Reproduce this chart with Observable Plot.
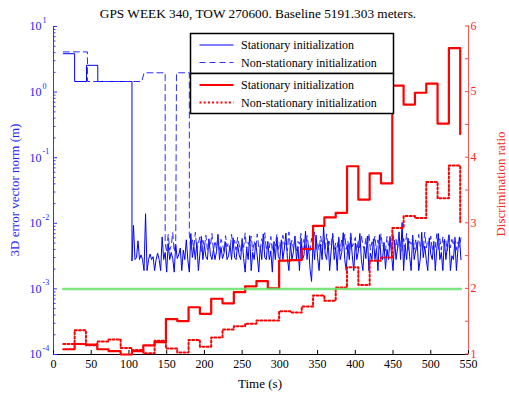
<!DOCTYPE html>
<html><head><meta charset="utf-8">
<script src="https://cdn.jsdelivr.net/npm/d3@7"></script>
<script src="https://cdn.jsdelivr.net/npm/@observablehq/plot@0.6"></script>
<style>body{margin:0;background:#fff;} #chart{width:509px;height:396px;}</style>
</head><body><div id="chart"></div>
<script>
// ---- text ----
const title = "GPS WEEK 340, TOW 270600. Baseline 5191.303 meters.";
const xLabel = "Time (s)";
const yLeftLabel = "3D error vector norm (m)";
const yRightLabel = "Discrimination ratio";
const legendBlue = ["Stationary initialization", "Non-stationary initialization"];
const legendRed = ["Stationary initialization", "Non-stationary initialization"];

// ---- ticks ----
const xTicks = [0, 50, 100, 150, 200, 250, 300, 350, 400, 450, 500, 550];
const leftTickExps = [-4, -3, -2, -1, 0, 1];
const rightTicks = [1, 1.5, 2, 2.5, 3, 3.5, 4, 4.5, 5, 5.5, 6];

// ---- blue solid: stationary initialization, 3D error (m) ----
const solidStepT = [13, 28, 43.7, 58.7, 104];
const solidStepE = [3.85, 1.45, 2.56, 1.45, 1.45];
// converged noise, every 2 s from t = 104 s, values in mm
const noiseT0 = 104, noiseDt = 2;
const solidNoiseMm = [
 2.7, 9.3, 2.8, 3.0, 5.4, 2.8, 3.3, 2.8, 1.9, 14,
 1.9, 2.8, 3.4, 2.8, 3.1, 1.9, 2.8, 3.5, 2.8, 1.9,
 6.2, 2.8, 3.6, 1.8, 4.9, 2.8, 3.6, 2.9, 1.8, 4.8,
 2.9, 3.3, 4.2, 1.9, 3.9, 2.8, 5.6, 2.8, 1.8, 7.0,
 3.0, 4.4, 2.8, 5.1, 1.9, 3.4, 6.3, 2.8, 4.6, 3.1,
 2.8, 5.8, 3.3, 2.8, 4.0, 2.8, 3.7, 6.8, 2.8, 4.3,
 2.9, 3.5, 5.2, 2.8, 3.2, 4.6, 2.8, 6.0, 3.0, 2.8,
 4.8, 3.3, 2.8, 5.5, 2.9, 1.8, 4.1, 2.8, 6.5, 1.9,
 3.6, 2.8, 5.0, 3.2, 1.8, 4.5, 2.8, 6.9, 3.0, 2.8,
 5.3, 2.8, 3.8, 1.8, 4.9, 2.8, 6.2, 3.1, 2.8, 5.6,
 2.8, 4.2, 7.1, 2.9, 1.9, 5.0, 2.8, 3.7, 6.4, 2.8,
 4.4, 1.9, 5.7, 2.8, 3.3, 7.6, 2.8, 4.7, 2.0, 1.3,
 5.2, 2.8, 6.6, 3.0, 1.9, 4.8, 2.8, 9.0, 3.4, 2.8,
 5.4, 1.9, 3.9, 6.8, 2.8, 4.3, 1.9, 5.9, 2.8, 3.6,
 7.2, 2.8, 1.9, 4.6, 2.8, 6.1, 3.2, 1.9, 5.0, 2.8,
 3.8, 7.0, 2.8, 1.9, 4.4, 2.9, 6.4, 1.9, 3.5, 2.8,
 5.8, 2.8, 4.1, 1.9, 6.7, 3.0, 2.8, 5.1, 2.0, 4.0,
 2.8, 6.3, 3.3, 1.9, 5.5, 2.8, 4.2, 7.4, 2.8, 10.3,
 1.9, 4.7, 2.8, 5.9, 3.1, 1.9, 6.6, 2.8, 3.9, 5.2,
 1.9, 2.8, 7.3, 3.0, 4.5, 2.8, 1.9, 6.0, 3.4, 2.8,
 5.3, 1.9, 4.1, 7.0, 2.8, 3.6, 1.9, 5.7, 2.8, 4.4,
 6.5, 1.9, 3.2, 2.8, 5.4, 1.9, 4.0, 6.2, 2.8
];

// ---- blue dashed: non-stationary initialization, 3D error (m) ----
const dashHeadT = [13, 45, 45, 117, 120, 148];
const dashHeadE = [4.1, 4.1, 1.45, 1.45, 1.97, 1.97];
const dashNoiseAT0 = 148;
const dashNoiseAMm = [5.0, 3.6, 6.8, 3.9, 4.5, 7.2, 3.7, 5.3];
const dashPlateauT = [163, 180];
const dashPlateauE = [1.97, 1.97];
const dashNoiseBT0 = 180;
const dashNoiseBMm = [
 6.9, 3.8, 5.6, 4.2, 7.3, 3.9, 5.0, 6.2, 3.7, 5.5,
 4.3, 6.6, 3.9, 5.2, 4.6, 7.0, 3.8, 5.4, 4.1, 6.3,
 3.9, 5.7, 4.8, 3.7, 6.5, 4.4, 5.0, 3.8, 6.8, 4.2,
 5.5, 3.9, 6.1, 4.7, 3.8, 5.9, 4.3, 7.1, 3.9, 5.1,
 4.5, 6.4, 3.8, 5.3, 4.0, 6.9, 4.4, 3.9, 5.8, 4.6,
 7.2, 3.9, 5.0, 4.2, 6.3, 3.8, 5.6, 4.5, 6.8, 4.0,
 5.2, 3.9, 6.6, 4.6, 5.0, 3.8, 7.4, 4.3, 5.5, 4.0,
 6.2, 3.8, 5.3, 4.8, 7.0, 3.9, 5.7, 4.1, 6.5, 4.4,
 3.8, 5.9, 4.6, 7.3, 4.0, 5.1, 3.9, 6.4, 4.5, 5.6,
 3.8, 6.9, 4.2, 5.3, 4.7, 7.1, 3.9, 5.0, 4.3, 6.2,
 3.8, 5.7, 4.5, 6.8, 4.0, 5.4, 3.9, 7.5, 4.4, 5.0,
 6.1, 3.8, 5.5, 4.2, 6.7, 4.6, 3.9, 5.9, 4.3, 7.0,
 3.9, 5.2, 4.7, 6.4, 3.8, 5.6, 4.1, 6.9, 4.4, 5.0,
 3.8, 6.3, 4.6, 5.4, 3.9, 7.2, 4.2, 5.7, 4.0, 6.5,
 4.5, 3.8, 5.9, 4.3, 7.0, 3.9, 5.3, 4.8, 6.2, 4.0,
 5.6, 3.8, 6.8, 4.4, 5.1, 3.9, 7.3, 4.2, 5.5, 4.6,
 6.4, 3.8, 5.0, 4.3, 6.9, 4.0, 5.8, 3.9, 6.2, 4.5,
 5.4, 3.8, 7.1, 4.2, 5.7, 4.6, 6.5, 3.9, 5.2, 4.4,
 6.0
];

// ---- red: discrimination ratio (right axis), step starts (s) ----
const ratioT = [13, 28, 43, 58, 73, 89, 104, 119, 134, 149, 164, 179, 194, 209, 224, 239, 254, 269,
                284, 299, 314, 329, 344, 359, 374, 389, 404, 419, 434, 449, 464, 479, 494, 509, 524, 539];
const ratioStationary = [1.08, 1.16, 1.15, 1.08, 1.05, 1.00, 1.05, 1.14, 1.19, 1.54, 1.51, 1.72,
                1.62, 1.85, 1.78, 1.95, 2.04, 2.12, 2.01, 2.43, 2.44, 2.61, 2.96, 3.09, 3.16, 3.87,
                3.36, 3.76, 3.61, 5.10, 4.81, 4.99, 5.13, 4.52, 5.67, 4.36];
const ratioNonStationary = [1.16, 1.37, 1.14, 1.20, 1.23, 1.10, 1.07, 1.02, 1.21, 1.09, 1.03, 1.22,
                1.12, 1.26, 1.38, 1.43, 1.47, 1.52, 1.52, 1.66, 1.64, 1.73, 1.90, 1.82, 2.02, 2.33,
                2.06, 2.43, 2.48, 2.93, 3.11, 3.08, 3.63, 3.38, 3.88, 3.02];
const thresholdRatio = 2;
const thresholdT = [13, 540];

// ---- build tables ----
// right axis (ratio 1..6) shares the log frame of the left axis (1e-4..1e1)
const r2y = r => Math.pow(10, r - 5);
const y2r = v => Math.log10(v) + 5;

const solidSteps = solidStepT.map((t, i) => ({t, e: solidStepE[i]}));
solidSteps.push({t: noiseT0, e: solidNoiseMm[0] / 1000});
const solidNoise = solidNoiseMm.map((v, i) => ({t: noiseT0 + i * noiseDt, e: v / 1000}));

const dashed = [];
dashHeadT.forEach((t, i) => dashed.push({t, e: dashHeadE[i]}));
dashNoiseAMm.forEach((v, i) => dashed.push({t: dashNoiseAT0 + i * noiseDt, e: v / 1000}));
dashPlateauT.forEach((t, i) => dashed.push({t, e: dashPlateauE[i]}));
dashNoiseBMm.forEach((v, i) => dashed.push({t: dashNoiseBT0 + i * noiseDt, e: v / 1000}));

const redSolid = ratioT.map((t, i) => ({t, r: ratioStationary[i]}));
const redDotted = ratioT.map((t, i) => ({t, r: ratioNonStationary[i]}));
const threshold = thresholdT.map(t => ({t, r: thresholdRatio}));

const leftTicks = leftTickExps.map(e => Math.pow(10, e));
const minorTicks = [];
leftTickExps.slice(0, -1).forEach(e => { for (let m = 2; m <= 9; m++) minorTicks.push(m * Math.pow(10, e)); });

const BLUE = "#0000ff", RED = "#ff0000";
const FONT = "'Liberation Serif', 'Times New Roman', serif";
const W = 509, H = 396, ML = 53, MR = 41, MT = 26, MB = 42;

const chart = Plot.plot({
  width: W, height: H,
  marginLeft: ML, marginRight: MR, marginTop: MT, marginBottom: MB,
  style: {fontFamily: FONT, fontSize: "12px", background: "#fff", overflow: "visible"},
  x: {domain: [0, 550]},
  y: {type: "log", domain: [1e-4, 10]},
  marks: [
    // axes
    Plot.ruleY([1e-4], {stroke: "#000", strokeWidth: 1.2}),
    Plot.ruleX([0], {stroke: "#3333ff", strokeWidth: 1}),
    Plot.ruleX([550], {stroke: "#ff5555", strokeWidth: 1}),
    Plot.axisX({ticks: xTicks, tickSize: -4, tickPadding: 8.5, tickFormat: d => String(d), stroke: "#000", fill: "#000", fontSize: 12, label: null}),
    Plot.axisY({anchor: "left", ticks: leftTicks, tickSize: -4, tickPadding: 0, tickFormat: () => "", stroke: "#3333ff", label: null}),
    Plot.axisY({anchor: "left", ticks: minorTicks, tickSize: -2.5, tickPadding: 0, tickFormat: () => "", stroke: "#3333ff", label: null}),
    Plot.axisY({anchor: "right", ticks: rightTicks.map(r2y), tickSize: -4, tickPadding: 6, dy: -0.5, tickFormat: v => String(Math.round(y2r(v) * 10) / 10), stroke: "#ff4444", fill: "#ff2222", fontSize: 12, label: null}),
    // left tick labels: 10 with a superscript exponent
    Plot.text(leftTicks, {x: 0, y: d => d, text: () => "10", dx: -12, textAnchor: "end", fontSize: 12, fill: "#2222ff"}),
    Plot.text(leftTicks, {x: 0, y: d => d, text: d => String(Math.round(Math.log10(d))), dx: -11, dy: -6, textAnchor: "start", fontSize: 8, fill: "#2222ff"}),
    // blue: error norm
    Plot.line(solidSteps, {x: "t", y: "e", curve: "step-after", stroke: BLUE, strokeWidth: 1}),
    Plot.line(solidNoise, {x: "t", y: "e", stroke: BLUE, strokeWidth: 1}),
    Plot.line(dashed, {x: "t", y: "e", stroke: "#2a2aff", strokeWidth: 1, strokeDasharray: "6,4"}),
    // red: discrimination ratio (right axis)
    Plot.line(redSolid, {x: "t", y: d => r2y(d.r), curve: "step-after", stroke: RED, strokeWidth: 2.2}),
    Plot.line(redDotted, {x: "t", y: d => r2y(d.r), curve: "step-after", stroke: RED, strokeWidth: 2, strokeDasharray: "2,2.2"}),
    Plot.line(threshold, {x: "t", y: d => r2y(d.r), stroke: "#66e066", strokeWidth: 2.5, strokeOpacity: 0.85})
  ]
});
document.getElementById("chart").appendChild(chart);

const svg = d3.select(chart);
// ---- titles ----
const tg = svg.append("g").attr("font-family", FONT).attr("text-anchor", "middle");
tg.append("text").attr("x", 258).attr("y", 13).attr("dy", "0.35em").attr("font-size", 13.3).attr("fill", "#000").text(title);
tg.append("text").attr("x", 260).attr("y", 383).attr("dy", "0.35em").attr("font-size", 13).attr("fill", "#000").text(xLabel);
tg.append("text").attr("transform", "translate(14,190) rotate(-90)").attr("dy", "0.35em").attr("font-size", 13).attr("fill", "#2222ff").text(yLeftLabel);
tg.append("text").attr("transform", "translate(500,184) rotate(-90)").attr("dy", "0.35em").attr("font-size", 13).attr("fill", "#ff2222").text(yRightLabel);

// ---- legend (two stacked boxes, as in the MATLAB plotyy figure) ----
const lg = svg.append("g").attr("font-family", FONT).attr("font-size", 12).attr("text-anchor", "start");
const bx = 190.5, by = 33.5, bw = 203, bh = 40;
const items = [
  {label: legendBlue[0], stroke: BLUE, w: 1, dash: null},
  {label: legendBlue[1], stroke: "#2a2aff", w: 1, dash: "6,4"},
  {label: legendRed[0], stroke: RED, w: 2.2, dash: null},
  {label: legendRed[1], stroke: RED, w: 2, dash: "2,2.2"}
];
[0, 1].forEach(b => {
  lg.append("rect").attr("x", bx).attr("y", by + b * bh).attr("width", bw).attr("height", bh)
    .attr("fill", "#fff").attr("stroke", "#000").attr("stroke-width", 1.5);
});
items.forEach((it, i) => {
  const cy = by + Math.floor(i / 2) * bh + 11.5 + (i % 2) * 17.5;
  lg.append("line").attr("x1", bx + 9).attr("x2", bx + 43).attr("y1", cy).attr("y2", cy)
    .attr("stroke", it.stroke).attr("stroke-width", it.w).attr("stroke-dasharray", it.dash);
  lg.append("text").attr("x", bx + 50.5).attr("y", cy).attr("dy", "0.35em").attr("fill", "#000").text(it.label);
});
</script>
</body></html>
